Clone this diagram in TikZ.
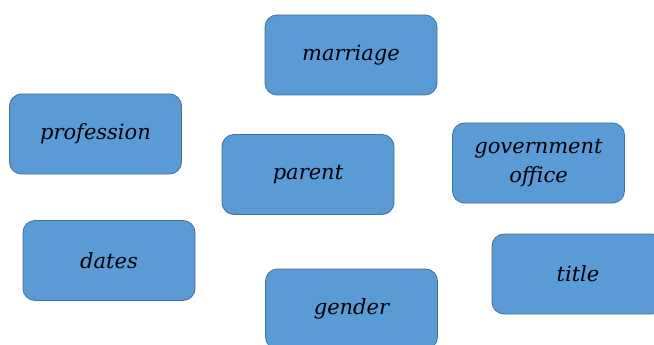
\documentclass[tikz,border=0pt]{standalone}
\usepackage{fontspec}
\setmainfont{DejaVu Serif}
\usepackage{tikz}
\definecolor{boxblue}{HTML}{5B9BD5}
\definecolor{boxedge}{HTML}{41719C}
\tikzset{
    termbox/.style={draw=boxedge, fill=boxblue, line width=0.8pt, rounded corners=12pt,
        minimum width=172pt, minimum height=80pt, align=center, inner sep=0pt,
        font=\fontsize{21}{29}\selectfont\itshape}
}

\begin{document}
\begin{tikzpicture}[x=1pt, y=-1pt]
    \useasboundingbox (0,0) rectangle (654,345);

    \node[termbox] (marriage)   at (351,55)    {marriage};
    \node[termbox] (profession) at (95.5,134)  {profession};
    \node[termbox] (parent)     at (308,174.5) {parent};
    \node[termbox] (government) at (538.5,163) {government\\office};
    \node[termbox] (dates)      at (109,260.5) {dates};
    \node[termbox] (title)      at (578,274)   {title};
    \node[termbox] (gender)     at (351.5,309) {gender};

\end{tikzpicture}
\end{document}
